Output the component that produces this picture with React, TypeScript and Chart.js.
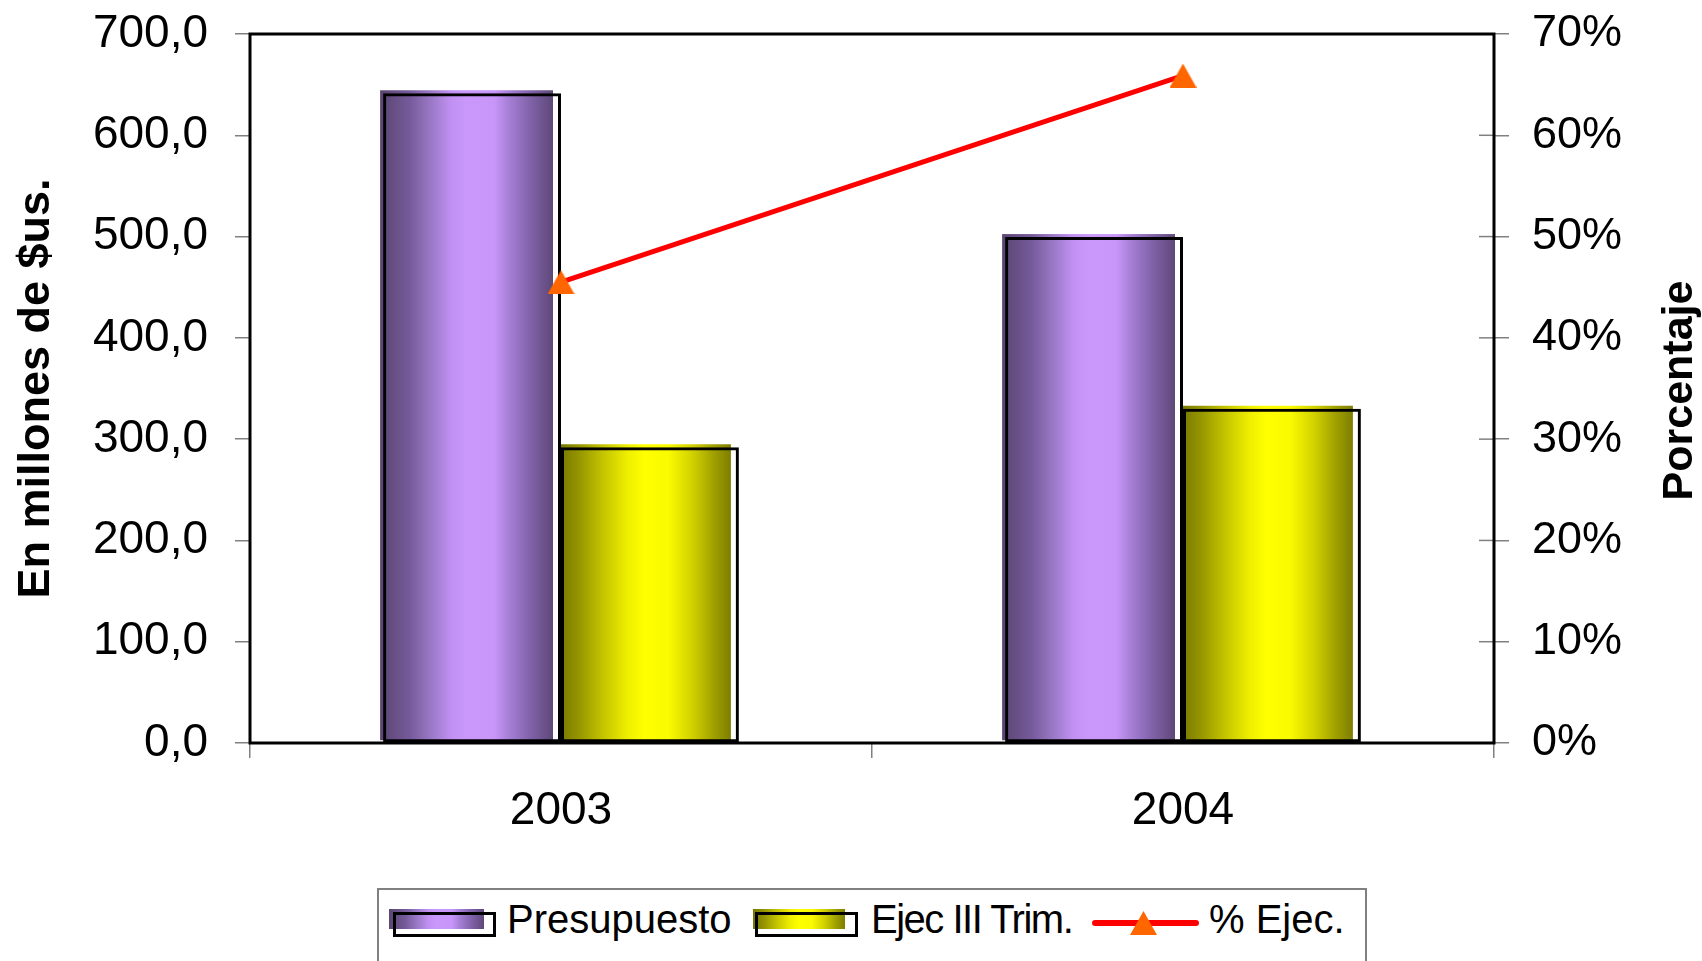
import React, { useEffect, useRef } from 'react';
import { Chart, registerables } from 'chart.js';

Chart.register(...registerables);

// ---------- data ----------
const categories = ['2003', '2004'];
const presupuesto = [641.5, 499.5];
const ejecIIITrim = [292.0, 330.0];
const pctEjec = [45.5, 65.9];
const seriesLabels = ['Presupuesto', 'Ejec III Trim.', '% Ejec.'];
const axisTitles = ['En millones de $us.', 'Porcentaje'];

// ---------- styles ----------
const FONT = '"Liberation Sans", Arial, Helvetica, sans-serif';
const purpleStops: [number, string][] = [
  [0, '#5A4672'],
  [0.17, '#755A9A'],
  [0.3, '#9C7AC8'],
  [0.41, '#C090F2'],
  [0.5, '#CA98FC'],
  [0.66, '#C896F8'],
  [0.74, '#A880D8'],
  [0.86, '#8364AC'],
  [1, '#5E4878'],
];
const yellowStops: [number, string][] = [
  [0, '#767600'],
  [0.12, '#959500'],
  [0.26, '#C4C400'],
  [0.4, '#EEEE00'],
  [0.5, '#FFFF00'],
  [0.64, '#FAFA00'],
  [0.78, '#D0D000'],
  [0.9, '#A0A000'],
  [1, '#7E7E00'],
];
const cssGrad = (stops: [number, string][]) =>
  `linear-gradient(to right, ${stops.map(([o, c]) => `${c} ${o * 100}%`).join(', ')})`;

function makeTriangle(w: number, h: number, color: string): HTMLCanvasElement {
  const c = document.createElement('canvas');
  c.width = w;
  c.height = h;
  const g = c.getContext('2d')!;
  g.fillStyle = color;
  g.beginPath();
  g.moveTo(w / 2, 0);
  g.lineTo(w, h);
  g.lineTo(0, h);
  g.closePath();
  g.fill();
  return c;
}

const decorPlugin = {
  id: 'decor',
  beforeDatasetsDraw(chart: any) {
    const ctx = chart.ctx;
    chart.data.datasets.forEach((ds: any, di: number) => {
      const meta = chart.getDatasetMeta(di);
      if (meta.type !== 'bar' || meta.hidden) return;
      const stops: [number, string][] = ds.fillStops;
      meta.data.forEach((el: any) => {
        const { x, y, base, width } = el.getProps(['x', 'y', 'base', 'width'], true);
        const l = x - width / 2 - 3;
        const r = x + width / 2 - 8;
        const t = y - 3;
        const b = base - 2;
        const g = ctx.createLinearGradient(l, 0, r, 0);
        stops.forEach(([o, c]) => g.addColorStop(o, c));
        ctx.save();
        ctx.fillStyle = g;
        ctx.fillRect(l, t, r - l, b - t);
        ctx.restore();
      });
    });
  },
  afterDraw(chart: any) {
    const { ctx, chartArea: a, scales } = chart;
    const y1 = scales.y1;
    ctx.save();
    ctx.strokeStyle = '#808080';
    ctx.lineWidth = 1.5;
    y1.ticks.forEach((t: any) => {
      const py = y1.getPixelForValue(t.value);
      ctx.beginPath();
      ctx.moveTo(a.right - 15, py);
      ctx.lineTo(a.right, py);
      ctx.stroke();
    });
    ctx.strokeStyle = '#000';
    ctx.lineWidth = 3;
    ctx.strokeRect(a.left, a.top, a.right - a.left, a.bottom - a.top);
    ctx.translate(y1.right - 22, (a.top + a.bottom) / 2 + 2);
    ctx.rotate(-Math.PI / 2);
    ctx.font = `bold 43px ${FONT}`;
    ctx.fillStyle = '#000';
    ctx.textAlign = 'center';
    ctx.textBaseline = 'middle';
    ctx.fillText(axisTitles[1], 0, 0);
    ctx.restore();
  },
};

export default function App() {
  const ref = useRef<HTMLCanvasElement | null>(null);

  useEffect(() => {
    if (!ref.current) return;
    const triangle = makeTriangle(27, 24, '#FF6600');
    const gridOpts = {
      display: true,
      drawOnChartArea: false,
      drawTicks: true,
      tickLength: 15,
      color: '#808080',
      lineWidth: 1.5,
    };
    const chart = new Chart(ref.current, {
      type: 'bar',
      data: {
        labels: categories,
        datasets: [
          {
            type: 'line',
            label: seriesLabels[2],
            data: pctEjec,
            yAxisID: 'y1',
            borderColor: '#FF0000',
            borderWidth: 5,
            tension: 0,
            pointStyle: triangle,
            pointRadius: 14,
            pointHoverRadius: 14,
            pointBackgroundColor: '#FF6600',
            pointBorderColor: '#FF6600',
            order: 0,
          } as any,
          {
            type: 'bar',
            label: seriesLabels[0],
            data: presupuesto,
            yAxisID: 'y',
            backgroundColor: 'rgba(0,0,0,0)',
            borderColor: '#000',
            borderWidth: 3,
            borderSkipped: false,
            barPercentage: 1,
            categoryPercentage: 0.572,
            fillStops: purpleStops,
            order: 1,
          } as any,
          {
            type: 'bar',
            label: seriesLabels[1],
            data: ejecIIITrim,
            yAxisID: 'y',
            backgroundColor: 'rgba(0,0,0,0)',
            borderColor: '#000',
            borderWidth: 3,
            borderSkipped: false,
            barPercentage: 1,
            categoryPercentage: 0.572,
            fillStops: yellowStops,
            order: 2,
          } as any,
        ],
      },
      options: {
        responsive: false,
        animation: false,
        devicePixelRatio: 1,
        layout: { padding: { top: 34, left: 0, right: 0, bottom: 0 } },
        plugins: {
          legend: { display: false },
          tooltip: { enabled: false },
        },
        scales: {
          x: {
            type: 'category',
            offset: true,
            grid: { ...gridOpts, offset: true },
            border: { display: false },
            ticks: { font: { family: FONT, size: 46 }, color: '#000', padding: 26, maxRotation: 0, autoSkip: false },
            afterFit: (s: any) => {
              s.height = 218;
              s.paddingLeft = 0;
              s.paddingRight = 0;
            },
          },
          y: {
            type: 'linear',
            position: 'left',
            min: 0,
            max: 700,
            grid: gridOpts,
            border: { display: false },
            ticks: {
              stepSize: 100,
              font: { family: FONT, size: 46 },
              color: '#000',
              padding: 27,
              callback: (v: any) => Number(v).toFixed(1).replace('.', ','),
            },
            title: {
              display: true,
              text: axisTitles[0],
              color: '#000',
              font: { family: FONT, size: 45, weight: 'bold' },
              padding: { top: 10, bottom: 0 },
            },
            afterFit: (s: any) => {
              s.width = 250;
              s.paddingTop = 0;
              s.paddingBottom = 0;
            },
          },
          y1: {
            type: 'linear',
            position: 'right',
            min: 0,
            max: 70,
            grid: gridOpts,
            border: { display: false },
            ticks: {
              stepSize: 10,
              font: { family: FONT, size: 45 },
              color: '#000',
              padding: 23,
              callback: (v: any) => `${v}%`,
            },
            afterFit: (s: any) => {
              s.width = 208;
              s.paddingTop = 0;
              s.paddingBottom = 0;
            },
          },
        },
      } as any,
      plugins: [decorPlugin],
    });
    return () => chart.destroy();
  }, []);

  const abs = (o: React.CSSProperties): React.CSSProperties => ({ position: 'absolute', boxSizing: 'border-box', ...o });
  const textStyle: React.CSSProperties = {
    fontSize: 40,
    lineHeight: '40px',
    color: '#000',
    whiteSpace: 'nowrap',
    fontFamily: FONT,
  };

  return (
    <div
      style={{
        position: 'absolute',
        left: 0,
        top: 0,
        width: 1702,
        height: 961,
        overflow: 'hidden',
        background: '#fff',
        fontFamily: FONT,
      }}
    >
      <canvas ref={ref} width={1702} height={961} style={{ display: 'block', width: 1702, height: 961 }} />
      <div style={abs({ left: 377, top: 888, width: 990, height: 110, border: '2px solid #808080', background: '#fff' })} />
      {/* Presupuesto */}
      <div style={abs({ left: 389, top: 909, width: 95, height: 20, background: cssGrad(purpleStops) })} />
      <div style={abs({ left: 393, top: 912, width: 103, height: 25, border: '3px solid #000' })} />
      <div style={abs({ ...textStyle, left: 507, top: 899 })}>{seriesLabels[0]}</div>
      {/* Ejec III Trim. */}
      <div style={abs({ left: 753, top: 909, width: 92, height: 20, background: cssGrad(yellowStops) })} />
      <div style={abs({ left: 755, top: 912, width: 103, height: 25, border: '3px solid #000' })} />
      <div style={abs({ ...textStyle, left: 871, top: 899, letterSpacing: '-1.5px' })}>{seriesLabels[1]}</div>
      {/* % Ejec. */}
      <div style={abs({ left: 1092, top: 920, width: 107, height: 6, background: '#FF0000', borderRadius: 3 })} />
      <div
        style={abs({
          left: 1130,
          top: 911,
          width: 27,
          height: 24,
          background: '#FF6600',
          clipPath: 'polygon(50% 0, 100% 100%, 0 100%)',
        })}
      />
      <div style={abs({ ...textStyle, left: 1209, top: 899 })}>{seriesLabels[2]}</div>
    </div>
  );
}
